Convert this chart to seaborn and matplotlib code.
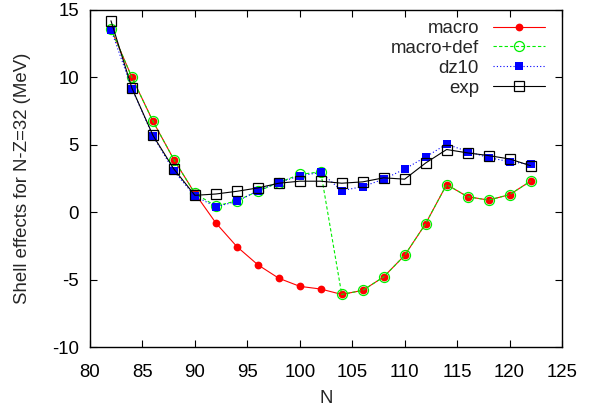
import matplotlib
matplotlib.use("Agg")
import matplotlib.pyplot as plt
import seaborn as sns
import numpy as np

# ---- data ----
N = [82, 84, 86, 88, 90, 92, 94, 96, 98, 100, 102, 104, 106, 108, 110, 112, 114, 116, 118, 120, 122]
macro = [13.6, 10.0, 6.75, 3.9, 1.4, -0.8, -2.55, -3.9, -4.9, -5.5, -5.7, -6.1, -5.8, -4.8, -3.2, -0.85, 2.05, 1.15, 0.9, 1.3, 2.3]
macro_def = [13.6, 10.0, 6.75, 3.9, 1.4, 0.45, 0.85, 1.55, 2.2, 2.8, 3.0, -6.1, -5.8, -4.8, -3.2, -0.85, 2.05, 1.15, 0.9, 1.3, 2.3]
dz10 = [13.55, 9.15, 5.65, 3.05, 1.2, 0.4, 0.8, 1.6, 2.2, 2.7, 2.95, 1.6, 1.9, 2.45, 3.2, 4.1, 5.05, 4.5, 4.05, 3.75, 3.55]
exp = [14.2, 9.2, 5.7, 3.2, 1.25, 1.35, 1.55, 1.8, 2.15, 2.3, 2.3, 2.15, 2.25, 2.55, 2.45, 3.65, 4.65, 4.4, 4.2, 3.95, 3.45]
labels = ["macro", "macro+def", "dz10", "exp"]
xticks = [80, 85, 90, 95, 100, 105, 110, 115, 120, 125]
yticks = [-10, -5, 0, 5, 10, 15]

sns.set_style("ticks")
plt.rcParams['font.family'] = ['Liberation Sans', 'DejaVu Sans']
plt.rcParams['axes.unicode_minus'] = False

fig = plt.figure(figsize=(5.92, 4.08), dpi=100)
ax = fig.add_axes([90 / 592, 1 - 347 / 408, (562 - 90) / 592, (347 - 10) / 408])

fs = 13.4
lw = 0.8
sns.lineplot(x=N, y=macro, ax=ax, color="#ff0000", linestyle="-", lw=lw,
             marker="o", markersize=5.6, markeredgewidth=0, label=labels[0])
sns.lineplot(x=N, y=macro_def, ax=ax, color="#00ee00", linestyle=(0, (3, 2)), lw=lw,
             marker="o", markersize=7.2, markerfacecolor="none", markeredgecolor="#00ee00",
             markeredgewidth=0.9, label=labels[1])
sns.lineplot(x=N, y=dz10, ax=ax, color="#0000ff", linestyle=(0, (1, 2)), lw=lw,
             marker="s", markersize=5.8, markeredgewidth=0, label=labels[2])
sns.lineplot(x=N, y=exp, ax=ax, color="black", linestyle="-", lw=lw,
             marker="s", markersize=7.6, markerfacecolor="none", markeredgecolor="black",
             markeredgewidth=0.9, label=labels[3])

ax.set_xlim(80, 125)
ax.set_ylim(-10, 15)
ax.set_xticks(xticks)
ax.set_yticks(yticks)
ax.tick_params(direction="in", top=True, right=True, length=5, width=0.8,
               labelsize=fs, colors="black")
ax.tick_params(axis="x", pad=12)
ax.tick_params(axis="y", pad=8)
for s in ax.spines.values():
    s.set_linewidth(1.0)
    s.set_color("black")
    s.set_visible(True)

ax.set_xlabel("N", fontsize=fs, labelpad=7)
ax.set_ylabel("Shell effects for N-Z=32 (MeV)", fontsize=fs, labelpad=15)

leg = ax.legend(loc="upper right", frameon=False, markerfirst=False, fontsize=fs,
                handlelength=2.8, handletextpad=0.75, labelspacing=0.15,
                borderaxespad=0.5, borderpad=0.2,
                bbox_to_anchor=(1.0 - 4 / 472, 1.0 + 3 / 337))

fig.savefig("out.png", dpi=100)
